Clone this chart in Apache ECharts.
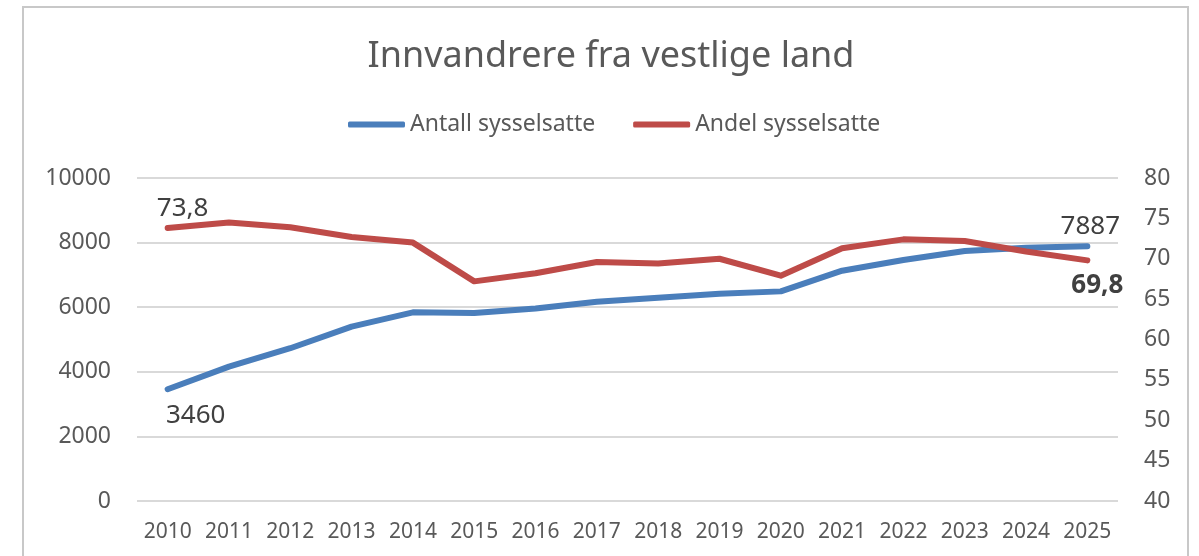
<!DOCTYPE html>
<html>
<head>
<meta charset="utf-8">
<title>Innvandrere fra vestlige land</title>
<script src="https://cdn.jsdelivr.net/npm/echarts@6/dist/echarts.min.js"></script>
<style>
    html, body { margin: 0; padding: 0; background: #fff; }
    #chart { width: 1199px; height: 556px; }
</style>
</head>
<body>
<div id="chart"></div>
<script>
// Innvandrere fra vestlige land - sysselsatte
var chart = echarts.init(document.getElementById("chart"));

var years = ['2010', '2011', '2012', '2013', '2014', '2015', '2016', '2017',
             '2018', '2019', '2020', '2021', '2022', '2023', '2024', '2025'];
var antall = [3460, 4160, 4730, 5400, 5840, 5820, 5960, 6170,
              6290, 6420, 6490, 7130, 7460, 7740, 7840, 7887];
var andel = [73.8, 74.5, 73.9, 72.7, 72.0, 67.2, 68.2, 69.6,
             69.4, 70.0, 67.9, 71.3, 72.4, 72.2, 70.9, 69.8];
var leftTicks = [0, 10000, 2000];   // min, max, step
var rightTicks = [40, 80, 5];

var textColor = '#595959';
var font = 'Noto Sans';

// only the first and last point get a label
function withLabels(values, firstLabel, lastLabel) {
    return values.map(function (v, i) {
        if (i === 0) return { value: v, label: firstLabel };
        if (i === values.length - 1) return { value: v, label: lastLabel };
        return v;
    });
}

function fmt(p) {
    return String(p.value).replace('.', ',');
}

var option = {
    backgroundColor: '#ffffff',
    textStyle: { fontFamily: font },
    title: {
        text: 'Innvandrere fra vestlige land',
        left: 606,
        textAlign: 'center',
        top: 34,
        textStyle: {
            color: textColor,
            fontSize: 36,
            fontWeight: 'normal',
            fontFamily: font,
        },
    },
    legend: {
        top: 108,
        left: 343,
        itemWidth: 57,
        itemHeight: 6,
        itemGap: 38,
        icon: 'roundRect',
        textStyle: {
            color: textColor,
            fontSize: 23,
            fontFamily: font,
        },
        data: ['Antall sysselsatte', 'Andel sysselsatte'],
    },
    grid: {
        left: 137,
        right: 81,
        top: 178,
        bottom: 55,
        containLabel: false,
    },
    xAxis: {
        type: 'category',
        data: years,
        boundaryGap: true,
        axisLine: { show: false },
        axisTick: { show: false },
        axisLabel: {
            color: textColor,
            fontSize: 21,
            margin: 21,
            interval: 0,
        },
    },
    yAxis: [
        {
            type: 'value',
            min: leftTicks[0],
            max: leftTicks[1],
            interval: leftTicks[2],
            axisLine: { show: false },
            axisTick: { show: false },
            axisLabel: { color: textColor, fontSize: 23, margin: 26, formatter: function (v) { return String(v); } },
            splitLine: { lineStyle: { color: '#d9d9d9', width: 2 } },
        },
        {
            type: 'value',
            min: rightTicks[0],
            max: rightTicks[1],
            interval: rightTicks[2],
            axisLine: { show: false },
            axisTick: { show: false },
            axisLabel: { color: textColor, fontSize: 23, margin: 26, formatter: function (v) { return String(v); } },
            splitLine: { show: false },
        },
    ],
    series: [
        {
            name: 'Antall sysselsatte',
            type: 'line',
            yAxisIndex: 0,
            symbol: 'circle',
            symbolSize: 1,
            showSymbol: true,
            color: '#4a7ebb',
            lineStyle: { width: 6, color: '#4a7ebb', cap: 'round', join: 'round' },
            label: { show: false },
            data: withLabels(antall,
                { show: true, position: 'bottom', distance: 13, offset: [28, 0], color: '#404040', fontSize: 26, formatter: fmt },
                { show: true, position: 'top', distance: 6, offset: [3, 0], color: '#404040', fontSize: 26, formatter: fmt }),
            z: 3,
        },
        {
            name: 'Andel sysselsatte',
            type: 'line',
            yAxisIndex: 1,
            symbol: 'circle',
            symbolSize: 1,
            showSymbol: true,
            color: '#be4b48',
            lineStyle: { width: 6, color: '#be4b48', cap: 'round', join: 'round' },
            label: { show: false },
            data: withLabels(andel,
                { show: true, position: 'top', distance: 6, offset: [15, 0], color: '#404040', fontSize: 26, formatter: fmt },
                { show: true, position: 'bottom', distance: 12, offset: [10, 0], color: '#404040', fontSize: 26, fontWeight: 'bold', formatter: fmt }),
            z: 4,
        },
    ],
    graphic: [
        {
            type: 'rect',
            shape: { x: 23, y: 7, width: 1165, height: 600 },
            style: { fill: 'none', stroke: '#c8c8c8', lineWidth: 2 },
            silent: true,
        },
    ],
};

chart.setOption(option);
window.addEventListener("resize", function () {
    chart.resize();
});
</script>
</body>
</html>
